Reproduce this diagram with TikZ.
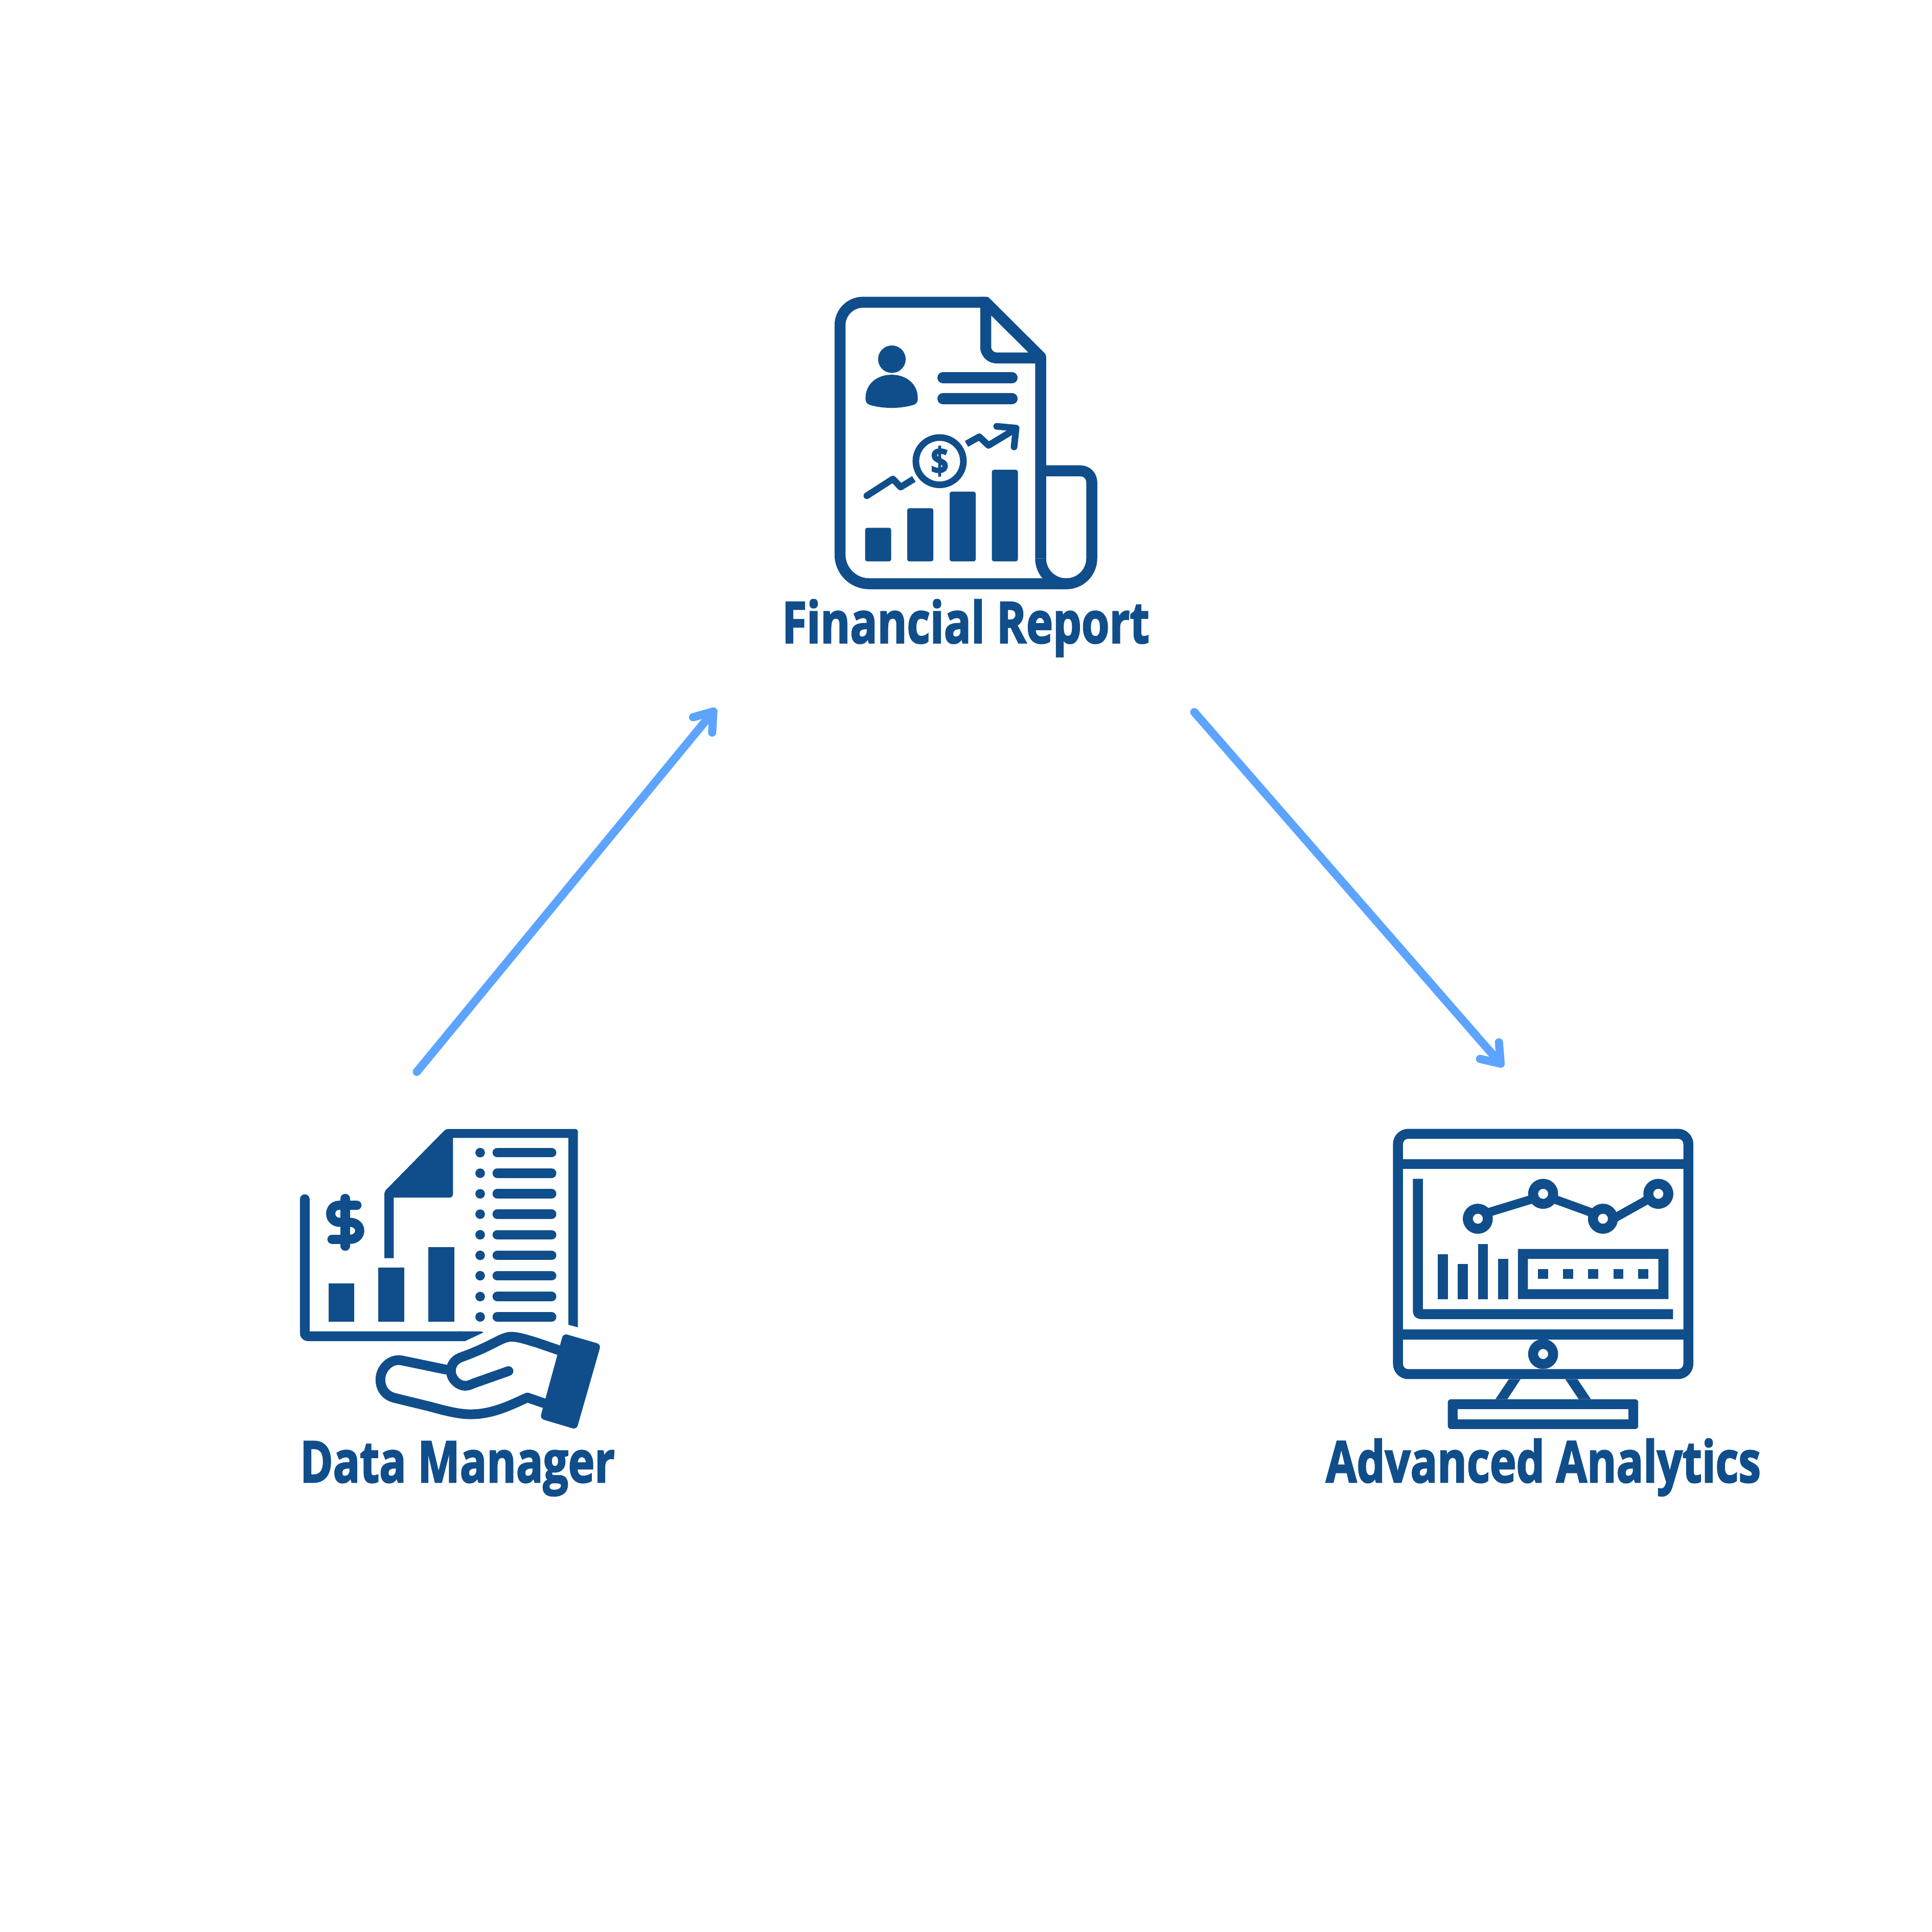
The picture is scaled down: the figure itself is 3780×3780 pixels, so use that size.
\documentclass[tikz,border=0pt]{standalone}
\usepackage{fontspec}
\usepackage{graphicx}
\newfontfamily\lblfont[FakeBold=2.5]{Open Sans Bold}
\definecolor{ic}{HTML}{104E8B}
\definecolor{flowc}{HTML}{5CA4FF}
\newcommand{\lbltext}[2]{\resizebox{#1}{\height}{\fontsize{112pt}{112pt}\lblfont #2}}
\tikzset{
  iconline/.style={draw=ic,line width=#1,line join=round},
  flowline/.style={draw=flowc,line width=16pt,line cap=round,line join=round},
  lbl/.style={anchor=base west,inner sep=0pt,outer sep=0pt,text=ic}
}
\begin{document}
\begin{tikzpicture}[x=1pt,y=-1pt]
\useasboundingbox (0,0) rectangle (3780,3780);
\fill[white] (0,0) rectangle (3780,3780);

% ---------- Financial Report icon
\begin{scope}[shift={(1600,560)},yscale=.995,shift={(-1600,-560)}]
\draw[iconline=21.5pt] (2036,1095) [rounded corners=49.5pt] -- (2036,1145) -- (2136,1145) [rounded corners=22pt] -- (2136,923) [sharp corners] -- (2047,923);
\draw[iconline=21.5pt] (1928.5,591.5) [rounded corners=45pt] -- (1643.5,591.5) [rounded corners=57pt] -- (1643.5,1145) [sharp corners] -- (2086,1145);
\draw[iconline=21.5pt] (1928.5,591.5) -- (2036,699) -- (2036,1095);
\draw[iconline=21.5pt] (1928.5,591.5) [rounded corners=21.5pt] -- (1928.5,701) [sharp corners] -- (2036,701);
\fill[ic] (1918,581) -- (1933,581) -- (1955,603) -- (1939.5,618) -- (1918,618) -- cycle;
\fill[ic] (1745,703.5) circle[radius=27pt];
\fill[ic] (1693.4,780) .. controls (1693.4,752) and (1716,734) .. (1744.5,734) .. controls (1773,734) and (1795.6,752) .. (1795.6,780) .. controls (1796,790) and (1790,793) .. (1785,794) .. controls (1760,801) and (1729,801) .. (1704,794) .. controls (1699,793) and (1693,790) .. (1693.4,780) -- cycle;
\draw[iconline=22pt,line cap=round] (1845,740) -- (1980,740);
\draw[iconline=22pt,line cap=round] (1845,781) -- (1980,781);
\fill[ic] (1696,972) circle[radius=6.5pt];
\draw[iconline=13pt] (1696,972) -- (1747,939) -- (1762,955) -- (1788,939);
\draw[iconline=13pt] (1891,870) -- (1916,856) -- (1934,873) -- (1985,842);
\draw[iconline=13pt,line cap=round] (1950,835.5) -- (1988,839) -- (1984,876);
\draw[iconline=13pt] (1838.4,904) circle[radius=46.5pt];
\node[inner sep=0pt,text=ic] (coin) at (1838.4,904) {\resizebox{35pt}{\height}{\fontsize{72pt}{72pt}\lblfont\$}};
\fill[ic,rounded corners=4pt] (1692.6,1035) rectangle (1743.5,1101);
\fill[ic,rounded corners=4pt] (1775,996.5) rectangle (1826,1101);
\fill[ic,rounded corners=4pt] (1858,964) rectangle (1909,1101);
\fill[ic,rounded corners=4pt] (1940.6,921) rectangle (1991.5,1101);
\end{scope}
\node[lbl] (fr) at (1530,1258) {\lbltext{719pt}{Financial Report}};

% ---------- Data Manager icon
\begin{scope}[shift={(560,2180)},xscale=.9948,yscale=.995,shift={(-560,-2180)}]
\fill[ic] (753,2463) [rounded corners=5pt] -- (753,2332) -- (874,2209) -- (1133.7,2209) [sharp corners] -- (1133.7,2599) -- (1115,2594) -- (1115,2226.5) -- (888,2226.5) [rounded corners=7pt] -- (888,2344) [sharp corners] -- (771.4,2344) -- (771.4,2463) -- cycle;
\draw[iconline=19pt,line cap=round] (596.5,2347) [rounded corners=6pt] -- (596.5,2616.5) [sharp corners] -- (905,2616.5);
\fill[ic] (900,2607) -- (943.6,2607) -- (948,2609) -- (912,2626) -- (900,2626) -- cycle;
\draw[iconline=19pt,line cap=round] (676,2346) -- (676,2439);
\draw[iconline=18pt,line cap=round] (699,2359) -- (665,2359) .. controls (652,2359) and (647.5,2368) .. (647.5,2376) .. controls (647.5,2385) and (655,2392.5) .. (665,2392.5) -- (685,2392.5) .. controls (697,2392.5) and (704.5,2400) .. (704.5,2409) .. controls (704.5,2418) and (697,2426) .. (685,2426) -- (650,2426);
\fill[ic] (643,2513) rectangle (694,2588.5);
\fill[ic] (741,2481.5) rectangle (792,2588.5);
\fill[ic] (839.4,2441.5) rectangle (891,2588.5);
\foreach \yy in {2255.5,2296,2336.5,2376.5,2417,2457.5,2497.5,2538.5,2578.5}{
  \fill[ic] (941.4,\yy) circle[radius=9.4pt];
  \draw[iconline=18.5pt,line cap=round] (975,\yy) -- (1082,\yy);
}
\begin{scope}[shift={(560,2180)},x=0.4359pt,y=-0.5pt]
  \draw[iconline=19pt,line cap=round] (1230,928) -- (1130,898) .. controls (1080,885) and (1045,875) .. (1015,875) .. controls (985,875) and (950,895) .. (925,905) .. controls (880,925) and (830,943) .. (785,957) .. controls (755,968) and (743,990) .. (743,1010) .. controls (743,1040) and (775,1068) .. (808,1068) .. controls (825,1068) and (840,1060) .. (850,1057) -- (1003,1010);
  \draw[iconline=19pt] (725,1005) -- (520,968) .. controls (470,960) and (425,1000) .. (425,1043) .. controls (425,1085) and (455,1110) .. (495,1117) -- (650,1150) .. controls (720,1167) and (780,1180) .. (832,1180) .. controls (930,1180) and (1010,1145) .. (1088,1114) -- (1165,1137);
  \fill[ic,rounded corners=8pt] (1250,862) -- (1420,905) -- (1310,1240) -- (1145,1197) -- cycle;
\end{scope}
\end{scope}
\node[lbl] (dm) at (587,2900) {\lbltext{616pt}{Data Manager}};

% ---------- Advanced Analytics icon
\begin{scope}[shift={(2580,2180)},xscale=.99483,yscale=.995,shift={(-2580,-2180)}]
\draw[iconline=19.5pt,rounded corners=20pt] (2736,2218.5) rectangle (3307,2691);
\draw[iconline=19.5pt] (2736,2278) -- (3307,2278);
\draw[iconline=19.5pt] (2736,2613) -- (3307,2613);
\draw[iconline=19.5pt] (2775,2307) [rounded corners=5pt] -- (2775,2573) [sharp corners] -- (3277,2573);
\draw[draw=ic,line width=17pt] (2893,2379.5) -- (3021.4,2340.3);
\draw[draw=ic,line width=17pt] (3021.4,2339) -- (3139,2381.5);
\draw[draw=ic,line width=17pt] (3139,2397) -- (3248,2336);
\foreach \xx/\yy in {2893/2385.5,3021.4/2336.5,3139/2385.5,3248/2336.5,3021.4/2651.5}{
  \draw[iconline=19.5pt,fill=white] (\xx,\yy) circle[radius=19.7pt];
}
\fill[ic] (2814.3,2455) rectangle (2834.5,2543.5);
\fill[ic] (2853.5,2474.5) rectangle (2873.7,2543.5);
\fill[ic] (2893.3,2435.5) rectangle (2913,2543.5);
\fill[ic] (2932.6,2464.5) rectangle (2952.8,2543.5);
\fill[ic,even odd rule] (2971.8,2445) rectangle (3267.8,2543.5) (2991.4,2464.5) rectangle (3248,2524);
\foreach \xx in {3011,3060.5,3110,3159.5,3208.5}{
  \fill[ic] (\xx,2484) rectangle ++(20,20);
}
\fill[ic] (2954,2701) -- (2977,2701) -- (2951,2740.5) -- (2927.5,2740.5) -- cycle;
\fill[ic] (3065,2701) -- (3089,2701) -- (3115.5,2740.5) -- (3091.5,2740.5) -- cycle;
\fill[ic,rounded corners=6pt] (2834,2740.5) rectangle (3208.4,2799);
\fill[white] (2853.5,2760) rectangle (3189,2780);
\end{scope}
\node[lbl] (aa) at (2594,2900) {\lbltext{851pt}{Advanced Analytics}};

% ---------- connectors
\coordinate (s1) at (815.5,2097);
\coordinate (t1) at (1395.7,1392);
\coordinate (w1a) at (1356,1403.3);
\coordinate (w1b) at (1393.3,1433.3);
\coordinate (s2) at (2336.7,1393.3);
\coordinate (t2) at (2936,2081);
\coordinate (w2a) at (2932.7,2039.3);
\coordinate (w2b) at (2895.7,2071.7);
\draw[flowline] (s1) -- (t1);
\draw[flowline] (w1a) -- (t1) -- (w1b);
\draw[flowline] (s2) -- (t2);
\draw[flowline] (w2a) -- (t2) -- (w2b);
\end{tikzpicture}
\end{document}
